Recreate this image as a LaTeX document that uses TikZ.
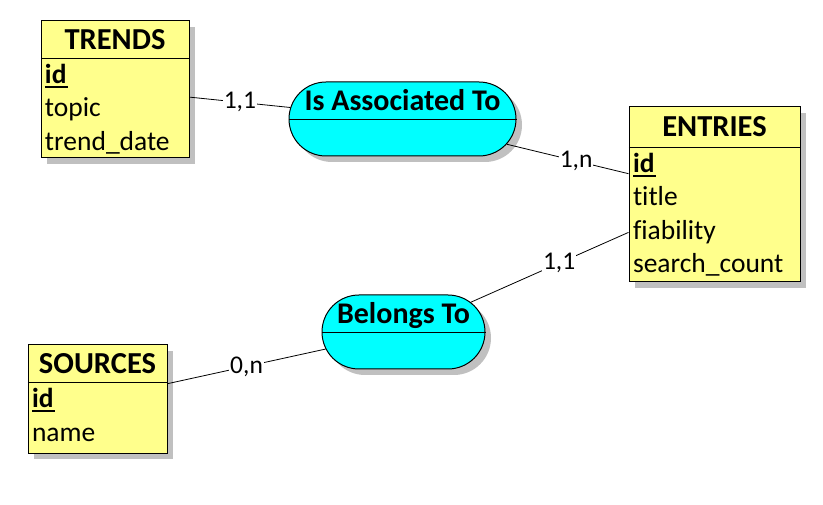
\documentclass[tikz,border=0pt]{standalone}
\usepackage{fontspec}
\setmainfont{Carlito}[Ligatures=NoCommon]
\usetikzlibrary{positioning,shapes.misc,shadows}

\definecolor{entyellow}{RGB}{255,255,140}
\definecolor{relcyan}{RGB}{0,255,255}
\definecolor{shadowgrey}{RGB}{192,192,192}

% key attribute: bold, underlined a bit below the text
\newcommand{\pkey}[1]{\setbox0\hbox{\bfseries #1}\rlap{\rule[-4.5pt]{\dimexpr\wd0+1pt\relax}{1.6pt}}\box0}

\tikzset{
    boxshadow/.style={drop shadow={shadow xshift=6pt, shadow yshift=-6pt, fill=shadowgrey, opacity=1}},
    entity/.style={draw, fill=entyellow, line width=1pt, inner sep=0pt, boxshadow},
    enthead/.style={anchor=north, inner sep=0pt, minimum height=37pt, text height=23pt, text depth=3pt,
        font=\fontsize{30.5}{36}\selectfont\bfseries},
    attr/.style={anchor=north west, inner xsep=4pt, inner ysep=0pt, minimum height=33pt,
        text height=22pt, text depth=4pt, font=\fontsize{27.5}{33}\selectfont},
    relation/.style={rounded rectangle, draw, fill=relcyan, line width=1pt, inner sep=0pt,
        minimum height=74pt, boxshadow},
    relhead/.style={anchor=south, inner sep=0pt, minimum height=37pt, text height=23pt, text depth=3pt,
        font=\fontsize{30}{36}\selectfont\bfseries},
    card/.style={fill=white, inner sep=1pt, font=\fontsize{25.5}{30}\selectfont},
    link/.style={line width=0.8pt}
}

\begin{document}
\begin{tikzpicture}[x=1pt, y=-1pt]
        \useasboundingbox (0,0) rectangle (823,505);

        % entities
        \node[entity, minimum width=148pt, minimum height=137pt] (trends) at (115,89.5) {};
        \node[enthead, minimum width=148pt] (trendshead) at (trends.north) {TRENDS};
        \draw (trendshead.south west) -- (trendshead.south east);
        \node[attr] (trendsid) at (trendshead.south west) {\pkey{id}};
        \node[attr] (trendstopic) at (trendsid.south west) {topic};
        \node[attr] (trendsdate) at (trendstopic.south west) {trend\_date};

        \node[entity, minimum width=171pt, minimum height=175pt] (entries) at (714.5,194.5) {};
        \node[enthead, minimum width=171pt, minimum height=40pt] (entrieshead) at (entries.north) {ENTRIES};
        \draw (entrieshead.south west) -- (entrieshead.south east);
        \node[attr] (entriesid) at (entrieshead.south west) {\pkey{id}};
        \node[attr] (entriestitle) at (entriesid.south west) {title};
        \node[attr] (entriesfiab) at (entriestitle.south west) {fiability};
        \node[attr] (entriescount) at (entriesfiab.south west) {search\_count};

        \node[entity, minimum width=139pt, minimum height=108pt] (sources) at (97.5,399) {};
        \node[enthead, minimum width=139pt] (sourceshead) at (sources.north) {SOURCES};
        \draw (sourceshead.south west) -- (sourceshead.south east);
        \node[attr] (sourcesid) at (sourceshead.south west) {\pkey{id}};
        \node[attr] (sourcesname) at (sourcesid.south west) {name};

        % relations
        \node[relation, minimum width=227pt] (assoc) at (402.5,119) {};
        \draw (assoc.west) -- (assoc.east);
        \node[relhead] (assochead) at (assoc.center) {Is Associated To};

        \node[relation, minimum width=163pt] (belongs) at (403.5,332) {};
        \draw (belongs.west) -- (belongs.east);
        \node[relhead] (belongshead) at (belongs.center) {Belongs To};

        % links
        \draw[link] (trends) -- node[card] {1,1} (assoc);
        \draw[link] (assoc) -- node[card, pos=0.57] {1,n} (entries);
        \draw[link] (entries) -- node[card, pos=0.44] {1,1} (belongs);
        \draw[link] (sources) -- node[card] {0,n} (belongs);

    \end{tikzpicture}
\end{document}
